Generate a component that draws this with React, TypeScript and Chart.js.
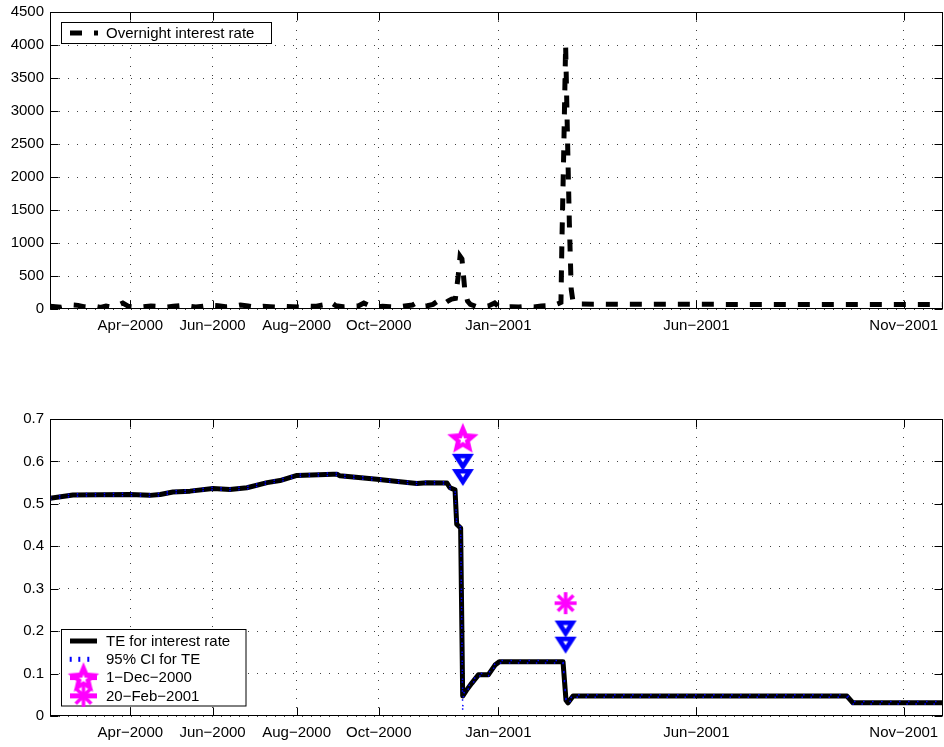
import React, { useEffect, useRef } from "react";
import { Chart, registerables } from "chart.js";

Chart.register(...registerables);

// ---- axis (trading-day index) ----
const X_MAX = 478;
const xTickIdx = [43, 87, 132, 176, 240, 346, 457];
const xTickLabels = ["Apr−2000", "Jun−2000", "Aug−2000", "Oct−2000", "Jan−2001", "Jun−2001", "Nov−2001"];

// ---- top panel: overnight interest rate ----
const rateIdx = [
  0, 3, 6, 9, 12, 15, 18, 21, 24, 27, 30, 33, 36, 39, 42, 46, 50, 54, 58, 62,
  66, 70, 74, 78, 82, 86, 90, 94, 98, 102, 106, 110, 114, 118, 122, 126, 130, 134, 138, 142,
  146, 150, 153, 157, 161, 165, 168, 171, 175, 178, 182, 186, 190, 194, 196, 199, 202, 205, 207, 210,
  213, 215, 217, 218.5, 219.5, 220.5, 222, 223.5, 225, 228, 232, 235, 238, 240, 243, 247, 251, 255, 259, 263,
  267, 270, 272, 273.5, 274, 275, 276, 277, 278, 279, 280, 283, 300, 320, 340, 360, 380, 400, 420, 440,
  460, 478,
];
const rateVals = [
  40, 35, 25, 45, 60, 55, 35, 30, 40, 25, 45, 30, 50, 90, 40, 30, 35, 45, 40, 30,
  40, 50, 45, 30, 40, 55, 50, 35, 40, 60, 45, 30, 40, 35, 30, 40, 35, 30, 45, 40,
  60, 110, 50, 35, 40, 45, 90, 50, 30, 40, 35, 30, 45, 60, 90, 40, 50, 70, 110, 60,
  120, 150, 160, 500, 800, 760, 300, 120, 70, 40, 35, 50, 90, 40, 30, 35, 30, 40, 30, 45,
  50, 60, 80, 100, 1000, 2400, 4000, 2600, 1300, 300, 100, 75, 72, 70, 72, 70, 70, 68, 70, 70,
  68, 70,
];

// ---- bottom panel: transfer entropy ----
const teIdx = [
  0, 12.3, 42.8, 53.5, 59, 65.8, 75, 87.2, 96.3, 105.4,
  116.2, 123.1, 132.2, 151.5, 153.6, 155.2, 175, 187.3, 196.4, 201.8,
  212.5, 214.1, 216.8, 217.7, 219.8, 220.9,
  223.0, 225.7, 229.3, 234.6, 238.2, 240.5,
  274.6, 276.2, 277.3, 280,
  426.6, 429.8, 478,
];
const teVals = [
  0.513, 0.521, 0.522, 0.520, 0.522, 0.528, 0.530, 0.536, 0.534, 0.538,
  0.550, 0.555, 0.567, 0.570, 0.570, 0.566, 0.558, 0.552, 0.548, 0.550,
  0.549, 0.538, 0.533, 0.452, 0.443, 0.047,
  0.061, 0.077, 0.097, 0.097, 0.120, 0.128,
  0.128, 0.037, 0.031, 0.047,
  0.047, 0.031, 0.031,
];
const ciUpperVals = [
  0.516, 0.524, 0.525, 0.523, 0.525, 0.531, 0.533, 0.539, 0.537, 0.541,
  0.553, 0.558, 0.570, 0.573, 0.573, 0.569, 0.561, 0.555, 0.551, 0.553,
  0.552, 0.541, 0.536, 0.455, 0.446, 0.050,
  0.064, 0.080, 0.100, 0.100, 0.123, 0.131,
  0.131, 0.040, 0.034, 0.050,
  0.050, 0.034, 0.034,
];
const ciLowerIdx = [
  0, 12.3, 42.8, 53.5, 59, 65.8, 75, 87.2, 96.3, 105.4,
  116.2, 123.1, 132.2, 151.5, 153.6, 155.2, 175, 187.3, 196.4, 201.8,
  212.5, 214.1, 216.8, 217.7, 219.8, 220.9, 221.1,
  223.0, 225.7, 229.3, 234.6, 238.2, 240.5,
  274.6, 276.2, 277.3, 280,
  426.6, 429.8, 478,
];
const ciLowerVals = [
  0.510, 0.518, 0.519, 0.517, 0.519, 0.525, 0.527, 0.533, 0.531, 0.535,
  0.547, 0.552, 0.564, 0.567, 0.567, 0.563, 0.555, 0.549, 0.545, 0.547,
  0.546, 0.535, 0.530, 0.449, 0.440, 0.010, 0.044,
  0.058, 0.074, 0.094, 0.094, 0.117, 0.125,
  0.125, 0.034, 0.028, 0.044,
  0.044, 0.028, 0.028,
];

// ---- event markers ----
const eventIdx = [221, 276];
const eventLabels = ["1−Dec−2000", "20−Feb−2001"];
const eventMarkY = [0.652, 0.266];
const triUpperY = [0.598, 0.205];
const triLowerY = [0.562, 0.167];

const FONT_FAMILY = '"Liberation Sans", Arial, Helvetica, sans-serif';
const FONT = { family: FONT_FAMILY, size: 15 };
const GRID = "rgba(0,0,0,0.75)";
const MAGENTA = "#ff00ff";
const BLUE = "#0000ff";

function makeCanvas(w: number, h: number) {
  const c = document.createElement("canvas");
  c.width = w;
  c.height = h;
  return c;
}

function starPath(g: CanvasRenderingContext2D, cx: number, cy: number, R: number, r: number) {
  g.beginPath();
  for (let k = 0; k < 10; k++) {
    const a = -Math.PI / 2 + (k * Math.PI) / 5;
    const rr = k % 2 === 0 ? R : r;
    const x = cx + rr * Math.cos(a);
    const y = cy + rr * Math.sin(a);
    if (k === 0) g.moveTo(x, y);
    else g.lineTo(x, y);
  }
  g.closePath();
}

function makePentagram() {
  const c = makeCanvas(36, 36);
  const g = c.getContext("2d")!;
  g.fillStyle = MAGENTA;
  starPath(g, 18, 18, 16.5, 7.5);
  g.fill();
  g.fillStyle = "#fff";
  starPath(g, 18, 18.5, 4.7, 2);
  g.fill();
  return c;
}

function makeTriangle() {
  const c = makeCanvas(24, 19);
  const g = c.getContext("2d")!;
  g.fillStyle = BLUE;
  g.beginPath();
  g.moveTo(1, 1);
  g.lineTo(23, 1);
  g.lineTo(12, 18);
  g.closePath();
  g.fill();
  g.fillStyle = "#fff";
  g.beginPath();
  g.moveTo(9.5, 5.5);
  g.lineTo(14.5, 5.5);
  g.lineTo(12, 9.5);
  g.closePath();
  g.fill();
  return c;
}

function makeAsterisk() {
  const c = makeCanvas(26, 26);
  const g = c.getContext("2d")!;
  g.strokeStyle = MAGENTA;
  g.lineWidth = 3.5;
  g.lineCap = "butt";
  const r = 11;
  for (const deg of [0, 45, 90, 135]) {
    const a = (deg * Math.PI) / 180;
    g.beginPath();
    g.moveTo(13 - r * Math.cos(a), 13 - r * Math.sin(a));
    g.lineTo(13 + r * Math.cos(a), 13 + r * Math.sin(a));
    g.stroke();
  }
  return c;
}

const framePlugin = {
  id: "frame",
  afterDatasetsDraw(chart: any) {
    const { ctx, chartArea: a, scales } = chart;
    ctx.save();
    ctx.setLineDash([]);
    ctx.strokeStyle = "#000";
    ctx.lineWidth = 1;
    const L = Math.round(a.left) + 0.5;
    const R = Math.round(a.right) - 0.5;
    const T = Math.round(a.top) + 0.5;
    const B = Math.round(a.bottom) - 0.5;
    ctx.strokeRect(L, T, R - L, B - T);
    const tl = 8;
    ctx.beginPath();
    scales.x.ticks.forEach((t: any) => {
      const px = Math.round(scales.x.getPixelForValue(t.value)) + 0.5;
      ctx.moveTo(px, T);
      ctx.lineTo(px, T + tl);
      ctx.moveTo(px, B);
      ctx.lineTo(px, B - tl);
    });
    scales.y.ticks.forEach((t: any) => {
      const py = Math.round(scales.y.getPixelForValue(t.value)) + 0.5;
      ctx.moveTo(L, py);
      ctx.lineTo(L + tl, py);
      ctx.moveTo(R, py);
      ctx.lineTo(R - tl, py);
    });
    ctx.stroke();
    ctx.restore();
  },
};

function xScale(height: number) {
  return {
    type: "linear",
    min: 0,
    max: X_MAX,
    afterBuildTicks: (s: any) => {
      s.ticks = xTickIdx.map((v) => ({ value: v }));
    },
    afterFit: (s: any) => {
      s.height = height;
      s.paddingLeft = 0;
      s.paddingRight = 0;
      s.paddingTop = 0;
      s.paddingBottom = 0;
    },
    ticks: {
      autoSkip: false,
      maxRotation: 0,
      minRotation: 0,
      padding: 8,
      color: "#000",
      font: FONT,
      callback: (_v: any, i: number) => xTickLabels[i],
    },
    grid: { color: GRID, lineWidth: 1, drawTicks: false },
    border: { display: false, dash: [1, 8] },
  };
}

function yScale(max: number, step: number, fmt: (v: number) => string) {
  return {
    type: "linear",
    min: 0,
    max,
    afterFit: (s: any) => {
      s.width = 50;
      s.paddingLeft = 0;
      s.paddingRight = 0;
      s.paddingTop = 0;
      s.paddingBottom = 0;
    },
    ticks: { stepSize: step, padding: 6, color: "#000", font: FONT, callback: (v: any) => fmt(Number(v)) },
    grid: { color: GRID, lineWidth: 1, drawTicks: false },
    border: { display: false, dash: [1, 8] },
  };
}

export default function App() {
  const topRef = useRef<HTMLCanvasElement>(null);
  const botRef = useRef<HTMLCanvasElement>(null);

  useEffect(() => {
    const pent = makePentagram();
    const tri = makeTriangle();
    const ast = makeAsterisk();
    const fontStr = `15px ${FONT_FAMILY}`;

    const topLegend = {
      id: "topLegend",
      afterDraw(chart: any) {
        const ctx = chart.ctx;
        ctx.save();
        ctx.fillStyle = "#fff";
        ctx.fillRect(61, 22, 211, 22);
        ctx.strokeStyle = "#000";
        ctx.lineWidth = 1;
        ctx.setLineDash([]);
        ctx.strokeRect(61.5, 22.5, 210, 21);
        ctx.strokeStyle = "#000";
        ctx.lineWidth = 5;
        ctx.lineCap = "butt";
        ctx.setLineDash([12, 12]);
        ctx.beginPath();
        ctx.moveTo(70, 33);
        ctx.lineTo(98, 33);
        ctx.stroke();
        ctx.setLineDash([]);
        ctx.fillStyle = "#000";
        ctx.font = fontStr;
        ctx.textBaseline = "middle";
        ctx.textAlign = "left";
        ctx.fillText("Overnight interest rate", 106, 33.5);
        ctx.restore();
      },
    };

    const botLegend = {
      id: "botLegend",
      afterDraw(chart: any) {
        const ctx = chart.ctx;
        const rows = [268, 286.3, 304.6, 322.9];
        ctx.save();
        ctx.fillStyle = "#fff";
        ctx.fillRect(61, 256, 185, 77);
        ctx.strokeStyle = "#000";
        ctx.lineWidth = 1;
        ctx.setLineDash([]);
        ctx.strokeRect(61.5, 256.5, 184.5, 76.5);
        // row 1: TE
        ctx.lineWidth = 5;
        ctx.lineCap = "butt";
        ctx.beginPath();
        ctx.moveTo(70, rows[0]);
        ctx.lineTo(97, rows[0]);
        ctx.stroke();
        // row 2: CI dots
        ctx.fillStyle = BLUE;
        for (const dx of [70.7, 79.3, 88.3]) ctx.fillRect(dx - 1, rows[1] - 2.5, 2, 5);
        // rows 3, 4: magenta line + marker
        ctx.strokeStyle = MAGENTA;
        ctx.lineWidth = 5;
        for (const r of [rows[2], rows[3]]) {
          ctx.beginPath();
          ctx.moveTo(70, r);
          ctx.lineTo(97, r);
          ctx.stroke();
        }
        ctx.drawImage(pent, 83.5 - pent.width / 2, rows[2] - pent.height / 2 + 1);
        ctx.drawImage(ast, 83.5 - ast.width / 2, rows[3] - ast.height / 2);
        ctx.fillStyle = "#000";
        ctx.font = fontStr;
        ctx.textBaseline = "middle";
        ctx.textAlign = "left";
        const labels = ["TE for interest rate", "95% CI for TE", eventLabels[0], eventLabels[1]];
        labels.forEach((t, i) => ctx.fillText(t, 106, rows[i] + 0.5));
        ctx.restore();
      },
    };

    const topChart = new Chart(topRef.current!, {
      type: "line",
      data: {
        datasets: [
          {
            label: "Overnight interest rate",
            data: rateIdx.map((x, i) => ({ x, y: rateVals[i] })),
            borderColor: "#000",
            borderWidth: 5,
            borderDash: [12, 12],
            borderCapStyle: "butt",
            borderJoinStyle: "miter",
            pointRadius: 0,
            tension: 0,
            fill: false,
          },
        ],
      },
      options: {
        animation: false,
        responsive: false,
        maintainAspectRatio: false,
        layout: { autoPadding: false, padding: { top: 12, right: 1, left: 0, bottom: 0 } },
        plugins: { legend: { display: false }, tooltip: { enabled: false } },
        scales: {
          x: xScale(64) as any,
          y: yScale(4500, 500, (v) => String(v)) as any,
        },
      },
      plugins: [framePlugin, topLegend],
    });

    const pts = (idx: number[], vals: number[]) => idx.map((x, i) => ({ x, y: vals[i] }));

    const botChart = new Chart(botRef.current!, {
      type: "line",
      data: {
        datasets: [
          {
            label: "TE for interest rate",
            data: pts(teIdx, teVals),
            borderColor: "#000",
            borderWidth: 5,
            borderJoinStyle: "round",
            borderCapStyle: "round",
            pointRadius: 0,
            tension: 0,
            order: 3,
          },
          {
            label: "95% CI for TE",
            data: pts(teIdx, ciUpperVals),
            borderColor: BLUE,
            borderWidth: 1.5,
            borderDash: [1.5, 7.5],
            borderCapStyle: "butt",
            pointRadius: 0,
            tension: 0,
            order: 2,
          },
          {
            label: "95% CI lower",
            data: pts(ciLowerIdx, ciLowerVals),
            borderColor: BLUE,
            borderWidth: 1.5,
            borderDash: [1.5, 7.5],
            borderCapStyle: "butt",
            pointRadius: 0,
            tension: 0,
            order: 2,
          },
          {
            label: "CI bounds at events",
            data: [
              ...eventIdx.map((x, i) => ({ x, y: triUpperY[i] })),
              ...eventIdx.map((x, i) => ({ x, y: triLowerY[i] })),
            ],
            showLine: false,
            pointStyle: tri as any,
            pointRadius: 8,
            order: 1,
          },
          {
            label: eventLabels[0],
            data: [{ x: eventIdx[0], y: eventMarkY[0] }],
            showLine: false,
            borderColor: MAGENTA,
            pointStyle: pent as any,
            pointRadius: 10,
            order: 0,
          },
          {
            label: eventLabels[1],
            data: [{ x: eventIdx[1], y: eventMarkY[1] }],
            showLine: false,
            borderColor: MAGENTA,
            pointStyle: ast as any,
            pointRadius: 10,
            order: 0,
          },
        ],
      },
      options: {
        animation: false,
        responsive: false,
        maintainAspectRatio: false,
        layout: { autoPadding: false, padding: { top: 46, right: 1, left: 0, bottom: 0 } },
        plugins: { legend: { display: false }, tooltip: { enabled: false } },
        scales: {
          x: xScale(31) as any,
          y: yScale(0.7, 0.1, (v) => (v === 0 ? "0" : String(Math.round(v * 10) / 10))) as any,
        },
      },
      plugins: [framePlugin, botLegend],
    });

    return () => {
      topChart.destroy();
      botChart.destroy();
    };
  }, []);

  return (
    <div style={{ position: "absolute", left: 0, top: 0, width: 944, height: 747, background: "#fff" }}>
      <canvas
        ref={topRef}
        width={944}
        height={373}
        style={{ position: "absolute", left: 0, top: 0, width: 944, height: 373 }}
      />
      <canvas
        ref={botRef}
        width={944}
        height={374}
        style={{ position: "absolute", left: 0, top: 373, width: 944, height: 374 }}
      />
    </div>
  );
}
